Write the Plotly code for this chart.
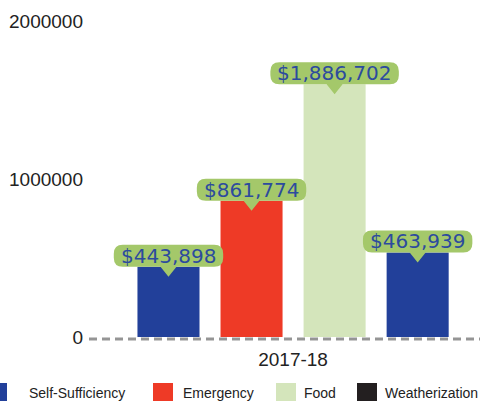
import plotly.graph_objects as go

# ---- data ----
period = ["2017-18"]
programs = ["Self-Sufficiency", "Emergency", "Food", "Weatherization"]
bar_heights = [443898, 861774, 1600000, 535000]      # heights as drawn in the picture
label_amounts = [443898, 861774, 1886702, 463939]    # amounts printed in the callouts
bar_colors = ["#22409a", "#ee3a26", "#d4e5bb", "#22409a"]
legend_colors = ["#22409a", "#ee3a26", "#d4e5bb", "#231f20"]
y_ticks = [0, 1000000, 2000000]

# ---- style ----
W, H = 480, 401
ML, MR, MT, MB = 89, 0, 21, 59
bargap, bargroupgap = 0.186, 0.253
x_range = [-0.5, 0.458]
y_range = [-31646, 2000000]
callout_green = "#a4c86a"
label_blue = "#2c4b9e"
label_font = 20

fig = go.Figure()
for name, h, c in zip(programs, bar_heights, bar_colors):
    fig.add_trace(go.Bar(x=[0], y=[h], name=name, marker=dict(color=c, line=dict(width=0)),
                         showlegend=False, hoverinfo="skip"))

n = len(programs)
slot = (1 - bargap) / n
centers = [-(1 - bargap) / 2 + slot * (i + 0.5) for i in range(n)]

shapes = []
# zero line: white under-line then dashed gray
for col, dash in (("white", "solid"), ("#959595", "8px,5px")):
    shapes.append(dict(type="line", xref="paper", x0=0, x1=1, yref="y",
                       ysizemode="pixel", yanchor=0, y0=-2, y1=-2,
                       line=dict(color=col, width=3, dash=dash), layer="above"))

annotations = []
char_w = {"$": 0.636, ",": 0.318}
for xc, h, amt in zip(centers, bar_heights, label_amounts):
    txt = "${:,}".format(amt)
    tw = sum(char_w.get(ch, 0.636) for ch in txt) * label_font
    w = tw + 14
    hh, r = 22, 9
    a, b = -w / 2, w / 2
    path = (f"M{a+r},0 L-8,0 L0,-10 L8,0 L{b-r},0 Q{b},0 {b},{r} L{b},{hh-r} "
            f"Q{b},{hh} {b-r},{hh} L{a+r},{hh} Q{a},{hh} {a},{hh-r} L{a},{r} Q{a},0 {a+r},0 Z")
    shapes.append(dict(type="path", xref="x", yref="y", xsizemode="pixel", ysizemode="pixel",
                       xanchor=xc, yanchor=h, path=path, fillcolor=callout_green,
                       line=dict(width=0), layer="above"))
    annotations.append(dict(x=xc, y=h, xref="x", yref="y", text=txt, showarrow=False,
                            yshift=11, xanchor="center", yanchor="middle",
                            font=dict(family="DejaVu Sans", size=label_font, color=label_blue)))

# manual legend (pixel positions -> paper coords)
plot_w = W - ML - MR
plot_h = H - MT - MB
def px(xp):
    return (xp - ML) / plot_w
def py(yp):
    return (H - MB - yp) / plot_h

sq_x = [-13, 153, 276, 357]
txt_x = [27, 181, 302, 383]
for name, c, sx, tx in zip(programs, legend_colors, sq_x, txt_x):
    shapes.append(dict(type="rect", xref="paper", yref="paper", x0=px(sx), x1=px(sx + 20),
                       y0=py(383), y1=py(406), fillcolor=c, line=dict(width=0), layer="above"))
    annotations.append(dict(x=px(tx), y=py(392.5), xref="paper", yref="paper", text=name,
                            showarrow=False, xanchor="left", yanchor="middle",
                            font=dict(family="Liberation Sans", size=14, color="#222222")))

fig.update_layout(
    width=W, height=H,
    margin=dict(l=ML, r=MR, t=MT, b=MB, pad=0),
    paper_bgcolor="white", plot_bgcolor="white",
    barmode="group", bargap=bargap, bargroupgap=bargroupgap,
    font=dict(family="Liberation Sans", size=19, color="#222222"),
    xaxis=dict(range=x_range, tickvals=[0], ticktext=period, showgrid=False,
               zeroline=False, showline=False, ticks="", fixedrange=True,
               ticklabelstandoff=4),
    yaxis=dict(range=y_range, tickvals=y_ticks, ticktext=[str(v) for v in y_ticks],
               showgrid=False, zeroline=False, showline=False, ticks="",
               ticklabelstandoff=5, fixedrange=True),
    shapes=shapes, annotations=annotations, showlegend=False,
)

fig.write_html("out.html", config={"displayModeBar": False},
               post_script="document.body.style.margin='0';document.body.style.overflow='hidden';")
